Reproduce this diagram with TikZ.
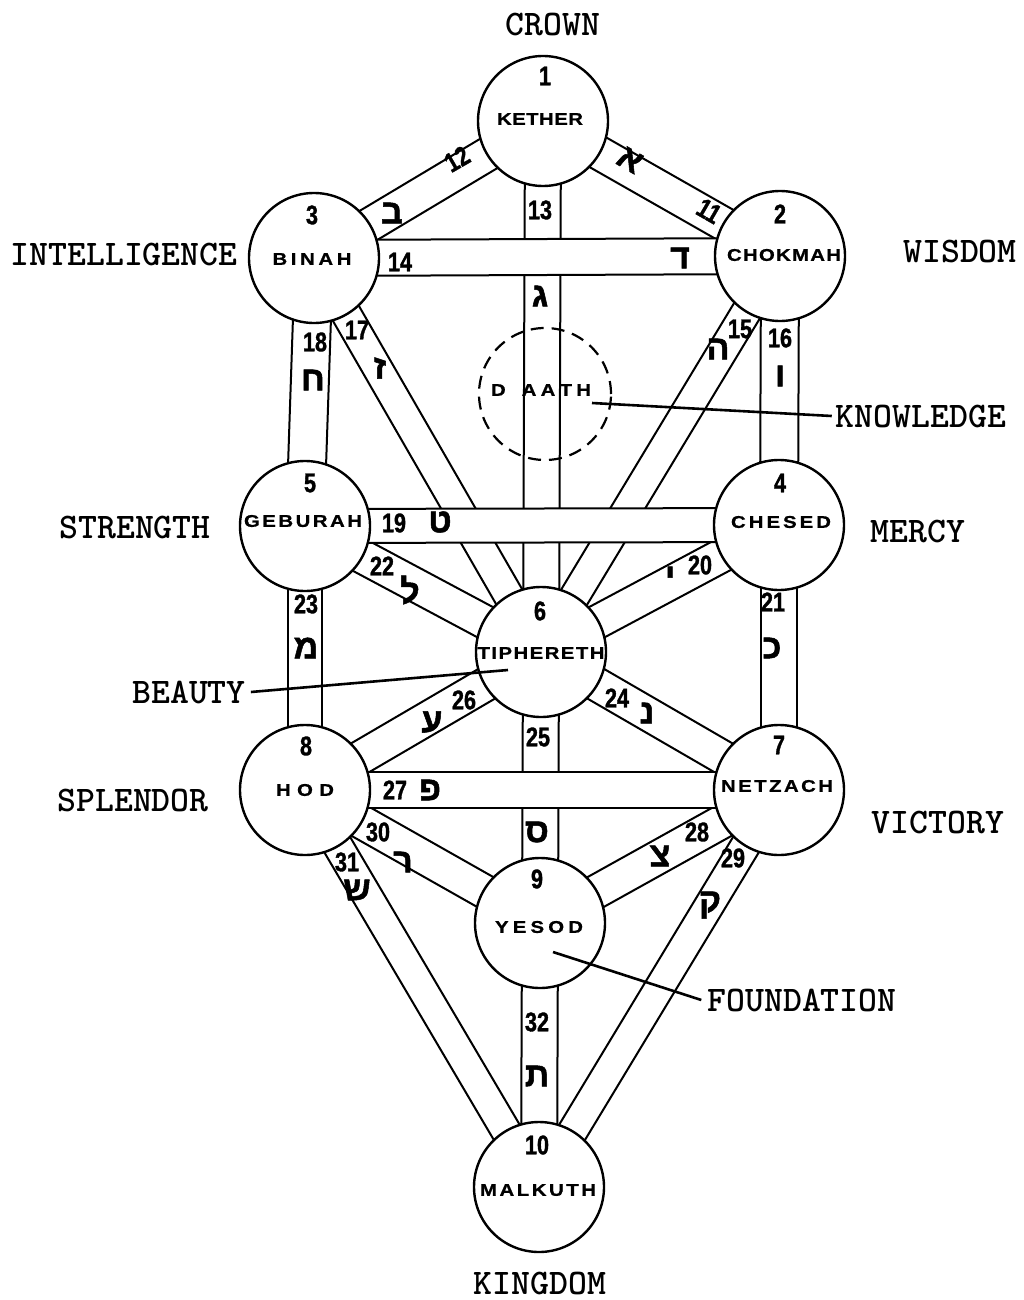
\documentclass[tikz,border=0pt]{standalone}
\usepackage{fontspec}
\setmainfont{Liberation Sans}
\newfontfamily\condf[FakeStretch=0.8, BoldFeatures={FakeBold=1.2}]{Liberation Sans}
\newfontfamily\widef[FakeStretch=1.2, BoldFeatures={FakeBold=0.8}]{Liberation Sans}
\newfontfamily\hebf[Script=Hebrew, BoldFeatures={FakeBold=1.5}]{Liberation Sans}
\usetikzlibrary{calc}
\pgfdeclarelayer{bg}
\pgfsetlayers{bg,main}
\makeatletter
\newcommand\spreadword[2]{\hbox to #1pt{\def\sw@sep{}\@tfor\sw@c:=#2\do{\sw@sep\sw@c\def\sw@sep{\hfil}}}}
\makeatother
\newcommand\band[3]{%
  \path[bandst] ($(#1)!#3pt!90:(#2)$) -- ($(#2)!#3pt!-90:(#1)$) --
    ($(#2)!#3pt!90:(#1)$) -- ($(#1)!#3pt!-90:(#2)$) -- cycle;}
\tikzset{
  seph/.style={circle, draw, line width=2.4pt, fill=white, minimum size=130pt, inner sep=0pt},
  daath/.style={circle, draw, line width=2.2pt, dash pattern=on 13pt off 8pt, minimum size=132pt, inner sep=0pt},
  bandst/.style={fill=white, draw, line width=2pt},
  lbl/.style={font=\ttfamily\bfseries\fontsize{36}{40}\selectfont, inner sep=0pt},
  num/.style={font=\condf\bfseries\fontsize{27}{30}\selectfont, inner sep=0pt},
  pnum/.style={font=\condf\bfseries\fontsize{27}{30}\selectfont, inner sep=0pt},
  hl/.style={font=\hebf\bfseries\fontsize{34}{36}\selectfont, inner sep=0pt},
  nm/.style={font=\widef\bfseries\fontsize{17}{19}\selectfont, inner sep=0pt},
  pointer/.style={line width=2.6pt},
}
\begin{document}
\begin{tikzpicture}[x=1pt,y=-1pt]
\useasboundingbox (0,0) rectangle (1024,1300);
% sephiroth
\node[seph] (K) at (543,121) {};
\node[seph] (Ch) at (780,256) {};
\node[seph] (B) at (314,258) {};
\node[daath] (D) at (545,394) {};
\node[seph] (Ce) at (779,525) {};
\node[seph] (G) at (305,526) {};
\node[seph] (T) at (541,652) {};
\node[seph] (N) at (779,790) {};
\node[seph] (H) at (305,790) {};
\node[seph] (Y) at (540,923) {};
\node[seph] (M) at (539,1187) {};
% paths (bands) behind
\begin{pgfonlayer}{bg}
\band{K}{T}{18}
\band{B}{T}{15}
\band{Ch}{T}{15}
\band{G}{T}{17}
\band{Ce}{T}{17}
\band{H}{T}{17}
\band{N}{T}{17}
\band{T}{Y}{18}
\band{H}{M}{15}
\band{N}{M}{15}
\band{H}{Y}{17}
\band{N}{Y}{17}
\band{Y}{M}{18}
\band{K}{B}{17}
\band{K}{Ch}{17}
\band{B}{G}{19}
\band{Ch}{Ce}{19}
\band{G}{H}{17}
\band{Ce}{N}{18}
\band{B}{Ch}{18}
\band{G}{Ce}{17}
\band{H}{N}{18}
\end{pgfonlayer}
% sephirah texts
\node[num] (n1) at (545,76) {1};
\node[nm] (t1) at (540,119) {\spreadword{86}{KETHER}};
\node[num] (n2) at (780,214) {2};
\node[nm] (t2) at (784,255) {\spreadword{114}{CHOKMAH}};
\node[num] (n3) at (312,215) {3};
\node[nm] (t3) at (312,259) {\spreadword{79}{BINAH}};
\node[nm] (tD) at (541,390) {\hbox to 100pt{D\hskip 16pt A\hfil A\hfil T\hfil H}};
\node[num] (n4) at (780,483) {4};
\node[nm] (t4) at (781,522) {\spreadword{100}{CHESED}};
\node[num] (n5) at (310,483) {5};
\node[nm] (t5) at (303,521) {\spreadword{118}{GEBURAH}};
\node[num] (n6) at (540,611) {6};
\node[nm] (t6) at (541,653) {\spreadword{127}{TIPHERETH}};
\node[num] (n7) at (779,745) {7};
\node[nm] (t7) at (777,786) {\spreadword{112}{NETZACH}};
\node[num] (n8) at (306,746) {8};
\node[nm] (t8) at (305,790) {\spreadword{58}{HOD}};
\node[num] (n9) at (537,879) {9};
\node[nm] (t9) at (539,927) {\spreadword{88}{YESOD}};
\node[num] (n10) at (537,1145) {10};
\node[nm] (t10) at (538,1190) {\spreadword{116}{MALKUTH}};
% path numbers and letters
\node[pnum,rotate=-30] (p11) at (709,211) {11};
\node[hl,rotate=-30] (h11) at (630,160) {א};
\node[pnum,rotate=30] (p12) at (457,159) {12};
\node[hl] (h12) at (392,213) {ב};
\node[pnum] (p13) at (540,210) {13};
\node[hl] (h13) at (540,296) {ג};
\node[pnum] (p14) at (400,262) {14};
\node[hl] (h14) at (680,258) {ד};
\node[pnum] (p15) at (740,329) {15};
\node[hl] (h15) at (718,349) {ה};
\node[pnum] (p16) at (780,338) {16};
\node[hl] (h16) at (780,376) {ו};
\node[pnum] (p17) at (357,330) {17};
\node[hl] (h17) at (380,368) {ז};
\node[pnum] (p18) at (315,342) {18};
\node[hl] (h18) at (313,380) {ח};
\node[pnum] (p19) at (394,523) {19};
\node[hl] (h19) at (440,522) {ט};
\node[pnum] (p20) at (700,565) {20};
\node[hl] (h20) at (670,577) {י};
\node[pnum] (p21) at (773,602) {21};
\node[hl] (h21) at (772,648) {כ};
\node[pnum] (p22) at (382,566) {22};
\node[hl] (h22) at (410,590) {ל};
\node[pnum] (p23) at (306,604) {23};
\node[hl] (h23) at (306,648) {מ};
\node[pnum] (p24) at (617,698) {24};
\node[hl] (h24) at (647,713) {נ};
\node[pnum] (p25) at (538,737) {25};
\node[hl] (h25) at (537,832) {ס};
\node[pnum] (p26) at (464,700) {26};
\node[hl] (h26) at (432,722) {ע};
\node[pnum] (p27) at (395,790) {27};
\node[hl] (h27) at (430,790) {פ};
\node[pnum] (p28) at (697,832) {28};
\node[hl] (h28) at (660,856) {צ};
\node[pnum] (p29) at (733,858) {29};
\node[hl] (h29) at (710,905) {ק};
\node[pnum] (p30) at (378,832) {30};
\node[hl] (h30) at (403,862) {ר};
\node[pnum] (p31) at (347,862) {31};
\node[hl] (h31) at (357,890) {ש};
\node[pnum] (p32) at (537,1022) {32};
\node[hl] (h32) at (537,1076) {ת};
% outer labels
\node[lbl] (crown) at (553,25) {CROWN};
\node[lbl] (intel) at (124,255) {INTELLIGENCE};
\node[lbl] (wisdom) at (960,252) {WISDOM};
\node[lbl] (know) at (921,416) {KNOWLEDGE};
\node[lbl] (strength) at (135,527) {STRENGTH};
\node[lbl] (mercy) at (918,531) {MERCY};
\node[lbl] (beauty) at (189,692) {BEAUTY};
\node[lbl] (splendor) at (133,800) {SPLENDOR};
\node[lbl] (victory) at (938,822) {VICTORY};
\node[lbl] (found) at (802,1000) {FOUNDATION};
\node[lbl] (kingdom) at (540,1283) {KINGDOM};
% pointers
\coordinate (kp) at (592,403);
\coordinate (bp) at (508,670);
\coordinate (fp) at (553,952);
\draw[pointer] (kp) -- ([xshift=-4pt]know.west);
\draw[pointer] ([xshift=5pt]beauty.east) -- (bp);
\draw[pointer] (fp) -- ([xshift=-6pt]found.west);
\end{tikzpicture}
\end{document}
